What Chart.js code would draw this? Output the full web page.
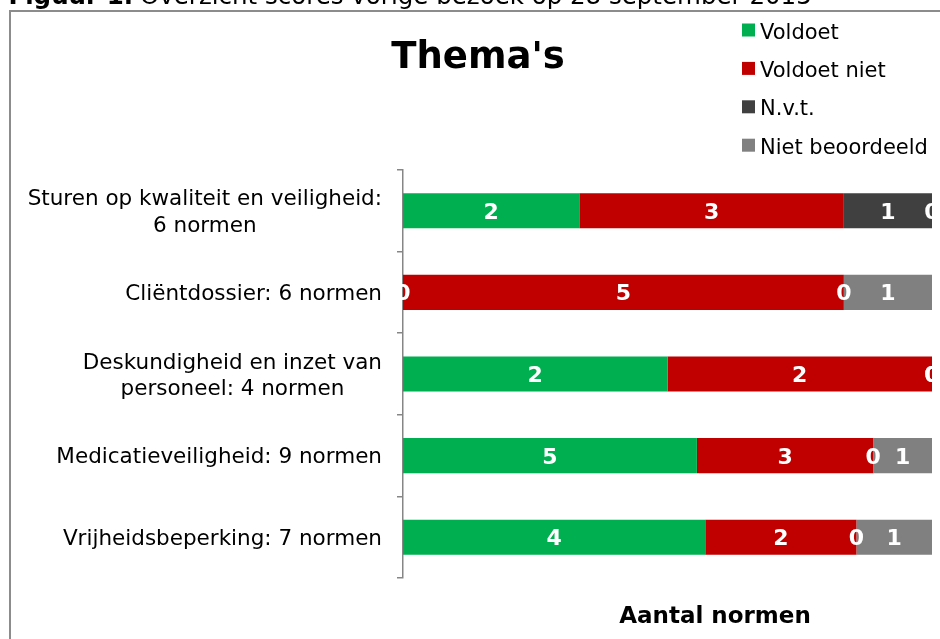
<!DOCTYPE html>
<html lang="nl">
<head>
  <meta charset="UTF-8" />
  <title>Thema's</title>
  <script src="https://cdn.jsdelivr.net/npm/chart.js"></script>
  <style>
    body { margin: 0; background: #fff; }
    #wrap { position: relative; width: 940px; height: 639px; }
  </style>
</head>
<body>
  <div id="wrap"><canvas id="chart"></canvas></div>

  <script>
    // categories (each entry = lines of the axis label)
    const categories = [
      ["Sturen op kwaliteit en veiligheid:", "6 normen"],
      ["Cliëntdossier: 6 normen"],
      ["Deskundigheid en inzet van", "personeel: 4 normen"],
      ["Medicatieveiligheid: 9 normen"],
      ["Vrijheidsbeperking: 7 normen"]
    ];
    const seriesNames = ["Voldoet", "Voldoet niet", "N.v.t.", "Niet beoordeeld"];
    const voldoet        = [2, 0, 2, 5, 4];
    const voldoetNiet    = [3, 5, 2, 3, 2];
    const nvt            = [1, 0, 0, 0, 0];
    const nietBeoordeeld = [0, 1, 0, 1, 1];
    const colors = ["#00b050", "#c00000", "#404040", "#808080"];

    const FONT = "'DejaVu Sans', Verdana, sans-serif";
    const series = [voldoet, voldoetNiet, nvt, nietBeoordeeld];
    const totals = categories.map((c, i) => series.reduce((s, arr) => s + arr[i], 0));

    // 100% stacked: bar length is share of the row total
    const datasets = series.map((arr, k) => ({
      label: seriesNames[k],
      data: arr.map((v, i) => v / totals[i] * 100),
      raw: arr,
      backgroundColor: colors[k],
      borderWidth: 0,
      barPercentage: 0.43,
      categoryPercentage: 1
    }));

    const decor = {
      id: "decor",
      afterDatasetsDraw(chart) {
        const ctx = chart.ctx;
        ctx.save();
        // value labels in the segments
        ctx.font = "bold 22px " + FONT;
        ctx.fillStyle = "#ffffff";
        ctx.textAlign = "center";
        ctx.textBaseline = "alphabetic";
        chart.data.datasets.forEach((ds, k) => {
          chart.getDatasetMeta(k).data.forEach((bar, i) => {
            ctx.fillText(String(ds.raw[i]), (bar.x + bar.base) / 2, bar.y + 8);
          });
        });
        ctx.restore();
      },
      afterDraw(chart) {
        const ctx = chart.ctx;
        const yScale = chart.scales.y;
        ctx.save();

        // outer frame (cut off at right and bottom)
        ctx.strokeStyle = "#8c8c8c";
        ctx.lineWidth = 2;
        ctx.beginPath();
        ctx.moveTo(10, 700);
        ctx.lineTo(10, 11);
        ctx.lineTo(960, 11);
        ctx.stroke();

        // caption above the frame
        ctx.fillStyle = "#000";
        ctx.textBaseline = "alphabetic";
        ctx.font = "bold 24.5px " + FONT;
        ctx.textAlign = "right";
        ctx.fillText("Figuur 1.", 133, 4);
        ctx.textAlign = "left";
        ctx.font = "24.5px " + FONT;
        ctx.fillText("Overzicht scores vorige bezoek op 28 september 2015", 140, 4);

        // title
        ctx.font = "bold 37px " + FONT;
        ctx.textAlign = "center";
        ctx.fillText("Thema's", 478, 68);

        // legend
        ctx.font = "21px " + FONT;
        ctx.textAlign = "left";
        seriesNames.forEach((name, k) => {
          const top = 23.5 + k * 38.4;
          ctx.fillStyle = colors[k];
          ctx.fillRect(742, top, 13, 13);
          ctx.fillStyle = "#000";
          ctx.fillText(name, 760, top + 15);
        });

        // category labels, block right-aligned, lines centred
        ctx.font = "21.5px " + FONT;
        ctx.textAlign = "center";
        categories.forEach((lines, i) => {
          const yc = yScale.getPixelForValue(i);
          const w = Math.max(...lines.map(l => ctx.measureText(l).width));
          const cx = 382 - w / 2;
          const lh = 26.5;
          lines.forEach((l, j) => {
            const y = yc + (j - (lines.length - 1) / 2) * lh + 7.8;
            ctx.fillText(l, cx, y);
          });
        });

        // axis title
        ctx.font = "bold 23px " + FONT;
        ctx.textAlign = "center";
        ctx.fillText("Aantal normen", 715, 623);
        ctx.restore();
      }
    };

    new Chart(document.getElementById("chart"), {
      type: "bar",
      data: { labels: categories, datasets: datasets },
      options: {
        indexAxis: "y",
        responsive: true,
        maintainAspectRatio: false,
        animation: false,
        layout: { padding: { top: 170, right: 8, bottom: 61, left: 0 } },
        plugins: {
          legend: { display: false },
          title: { display: false },
          tooltip: { enabled: false }
        },
        scales: {
          x: { stacked: true, min: 0, max: 100, display: false },
          y: {
            stacked: true,
            offset: true,
            ticks: { display: false },
            grid: {
              offset: true,
              drawOnChartArea: false,
              drawTicks: true,
              tickLength: 6,
              color: "#868686",
              lineWidth: 1.5
            },
            border: { display: true, color: "#868686", width: 1.5 },
            afterFit(scale) { scale.width = 403; }
          }
        }
      },
      plugins: [decor]
    });
  </script>
</body>
</html>
